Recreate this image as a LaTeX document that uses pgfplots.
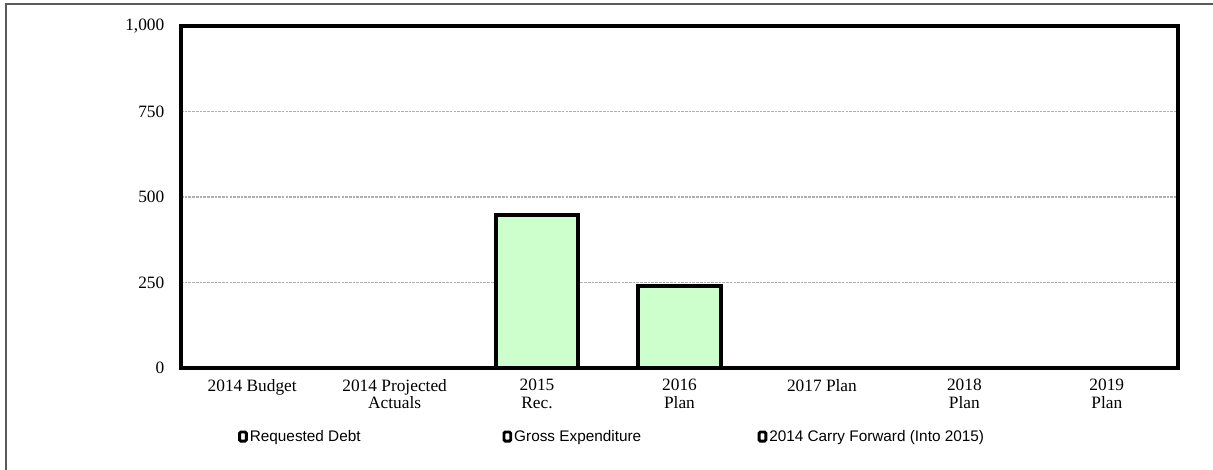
\documentclass[border=0pt]{standalone}
\usepackage{fontspec}
\setmainfont{Liberation Serif}
\newfontfamily\arialfont{Liberation Sans}
\usepackage{pgfplots}
\pgfplotsset{compat=1.18}
\definecolor{barGreen}{RGB}{204,255,204}
\definecolor{gridGray}{RGB}{175,175,175}
\definecolor{frameGray}{RGB}{90,90,90}

\begin{document}
\begin{tikzpicture}
\begin{axis}[
  scale only axis,
  width=747.75pt, height=256.5pt,
  ybar stacked,
  bar width=0.58,
  xmin=-0.5, xmax=6.5,
  ymin=0, ymax=1000,
  xtick=data,
  xticklabels={2014 Budget, {2014 Projected\\Actuals}, {2015\\Rec.}, {2016\\Plan}, 2017 Plan, {2018\\Plan}, {2019\\Plan}},
  ytick={0,250,500,750,1000},
  major tick length=0pt,
  ymajorgrids,
  major grid style={gridGray, line width=1.2pt, dash pattern=on 2pt off 0.8pt},
  axis line style={line width=2.6pt},
  /pgf/number format/assume math mode=true,
  /pgf/number format/1000 sep={,},
  tick label style={font=\fontsize{13}{13}\selectfont},
  xticklabel style={align=center, anchor=north, yshift=-5pt},
  yticklabel style={anchor=east, xshift=-9pt},
  legend columns=3,
  legend style={draw=none, fill=none, at={(0.057,-0.202)}, anchor=west,
    inner sep=0pt, column sep=0pt,
    font=\arialfont\fontsize{11.5}{13}\selectfont,
    nodes={inner xsep=1.5pt}},
  legend cell align=left,
  legend image code/.code={\draw[black, line width=2.2pt, fill=white, rounded corners=1pt] (0.9pt,-3pt) rectangle (6pt,3.8pt);},
]
\addplot[draw=none, fill=none] coordinates {(0,0) (1,0) (2,0) (3,0) (4,0) (5,0) (6,0)};
\addlegendentry{\makebox[188pt][l]{Requested Debt}}
\addplot[draw=black, line width=3pt, fill=barGreen] coordinates {(0,0) (1,0) (2,447) (3,240) (4,0) (5,0) (6,0)};
\addlegendentry{\makebox[181pt][l]{Gross Expenditure}}
\addplot[draw=none, fill=none] coordinates {(0,0) (1,0) (2,0) (3,0) (4,0) (5,0) (6,0)};
\addlegendentry{2014 Carry Forward (Into 2015)}
\end{axis}
\pgfresetboundingbox
\useasboundingbox (-135.75pt,-76.5pt) rectangle (774pt,276pt);
\draw[frameGray, line width=1.5pt] (-131.25pt,-80pt) -- (-131.25pt,273pt) -- (780pt,273pt);
\end{tikzpicture}
\end{document}
